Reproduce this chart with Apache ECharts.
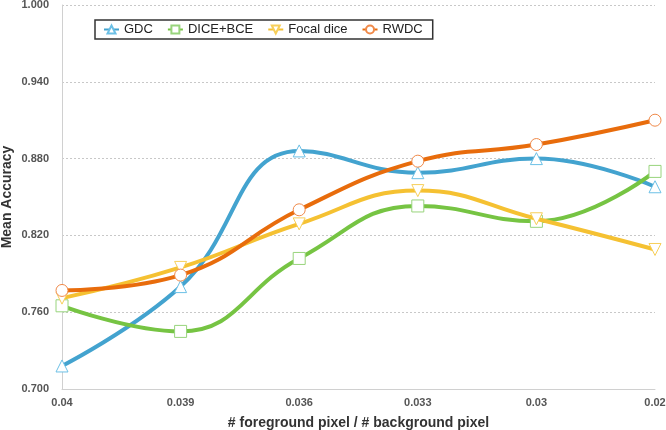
<!DOCTYPE html>
<html>
<head>
<meta charset="utf-8">
<script src="https://cdn.jsdelivr.net/npm/echarts@6/dist/echarts.min.js"></script>
<style>html,body{margin:0;padding:0;background:#fff}#c{width:666px;height:430px}</style>
</head>
<body>
<div id="c"></div>
<script>
const categories = ['0.04', '0.039', '0.036', '0.033', '0.03', '0.02'];
const gdc = [0.718, 0.780, 0.886, 0.869, 0.880, 0.858];
const diceBce = [0.765, 0.745, 0.802, 0.843, 0.831, 0.870];
const focalDice = [0.771, 0.795, 0.829, 0.855, 0.833, 0.809];
const rwdc = [0.777, 0.789, 0.840, 0.878, 0.891, 0.910];
const seriesNames = ['GDC', 'DICE+BCE', 'Focal dice', 'RWDC'];

const lineColors = ['#43a3cf', '#76c443', '#f5c132', '#e86c0c'];
const markColors = ['#6cc0e6', '#98d47c', '#f7cf5a', '#f08a4a'];
const symbols = ['triangle', 'rect', 'triangle', 'circle'];
const rotations = [0, 0, 180, 0];
const dataSets = [gdc, diceBce, focalDice, rwdc];

const chart = echarts.init(document.getElementById('c'), null, {renderer: 'canvas'});
const font = '"Liberation Sans", Arial, Helvetica, sans-serif';
chart.setOption({
  animation: false,
  backgroundColor: '#fff',
  textStyle: {fontFamily: font},
  grid: {left: 62, right: 11, top: 5, bottom: 41, containLabel: false, outerBoundsMode: 'none'},
  legend: {
    data: seriesNames,
    left: 95, top: 20,
    padding: [3, 10, 3, 8],
    itemGap: 14,
    itemWidth: 15, itemHeight: 10,
    borderColor: '#333', borderWidth: 1.5,
    textStyle: {fontFamily: font, fontSize: 13, color: '#222'}
  },
  xAxis: {
    type: 'category',
    data: categories,
    boundaryGap: false,
    name: '# foreground pixel / # background pixel',
    nameLocation: 'middle',
    nameGap: 27,
    nameMoveOverlap: false,
    nameTextStyle: {fontFamily: font, fontSize: 14, fontWeight: 'bold', color: '#333'},
    axisLine: {lineStyle: {color: '#d0d0d0', width: 1}},
    axisTick: {show: false},
    axisLabel: {fontFamily: font, fontSize: 11, fontWeight: 'bold', color: '#555', margin: 8},
    splitLine: {show: false}
  },
  yAxis: {
    type: 'value',
    min: 0.7, max: 1.0, interval: 0.06,
    name: 'Mean Accuracy',
    nameLocation: 'middle',
    nameGap: 48,
    nameMoveOverlap: false,
    nameTextStyle: {fontFamily: font, fontSize: 14, fontWeight: 'bold', color: '#333'},
    axisLine: {show: true, lineStyle: {color: '#d0d0d0', width: 1}},
    axisTick: {show: false},
    axisLabel: {fontFamily: font, fontSize: 11, fontWeight: 'bold', color: '#555', margin: 13,
      formatter: v => v.toFixed(3)},
    splitLine: {show: true, lineStyle: {color: '#c8c8c8', type: [2, 2], width: 1}}
  },
  series: seriesNames.map((n, i) => ({
    name: n,
    type: 'line',
    data: dataSets[i],
    smooth: 0.45,
    symbol: symbols[i],
    symbolRotate: rotations[i],
    symbolSize: 12,
    showAllSymbol: true,
    lineStyle: {color: lineColors[i], width: 4},
    itemStyle: {color: '#fff', borderColor: markColors[i], borderWidth: 1},
    z: 2 + i
  }))
});
</script>
</body>
</html>
